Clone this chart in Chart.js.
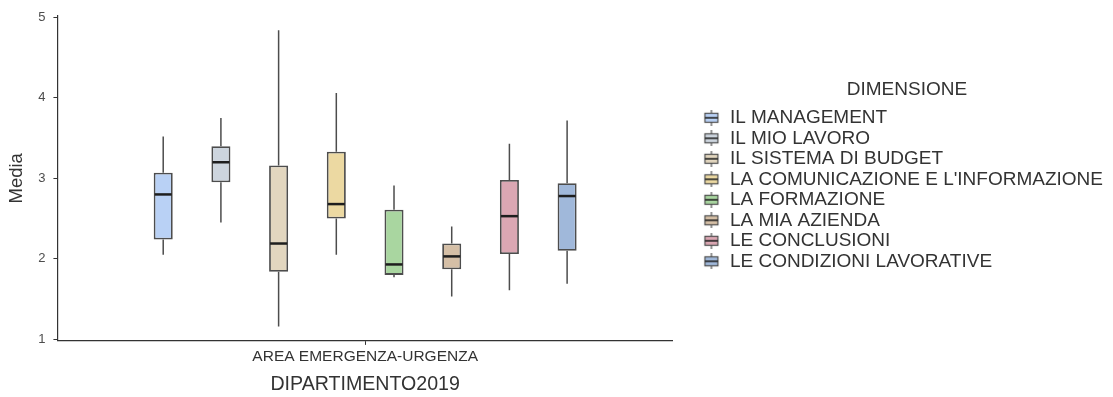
<!DOCTYPE html>
<html lang="it">
<head>
<meta charset="utf-8">
<title>Media per dimensione</title>
<script src="https://cdn.jsdelivr.net/npm/chart.js@4.4.1/dist/chart.umd.min.js"></script>
<style>
  html, body { margin: 0; padding: 0; background: #ffffff; }
  #chart { display: block; }
</style>
</head>
<body>
<canvas id="chart" width="1113" height="397"></canvas>
<script>
// Boxplot delle medie per dimensione, dipartimento AREA EMERGENZA-URGENZA
const categories = ['AREA EMERGENZA-URGENZA'];
const dimensions = [
    'IL MANAGEMENT',
    'IL MIO LAVORO',
    'IL SISTEMA DI BUDGET',
    "LA COMUNICAZIONE E L'INFORMAZIONE",
    'LA FORMAZIONE',
    'LA MIA AZIENDA',
    'LE CONCLUSIONI',
    'LE CONDIZIONI LAVORATIVE'
];
const whiskerLow  = [2.05, 2.45, 1.16, 2.05, 1.77, 1.53, 1.61, 1.69];
const q1          = [2.24, 2.95, 1.84, 2.50, 1.80, 1.87, 2.06, 2.10];
const median      = [2.80, 3.20, 2.19, 2.68, 1.93, 2.03, 2.53, 2.78];
const q3          = [3.07, 3.40, 3.16, 3.33, 2.61, 2.19, 2.98, 2.94];
const whiskerHigh = [3.52, 3.75, 4.84, 4.06, 2.91, 2.40, 3.43, 3.72];
const yTicks = [1, 2, 3, 4, 5];

const fills = ['#b9d1f5', '#cdd5de', '#e2d6bf', '#ecd9a2', '#a9d6a0', '#d5bfa6', '#dba7b3', '#a0b8da'];
const FONT = "'Liberation Sans', Arial, sans-serif";
const LINE = '#4d4d4d';

// piccola icona "box" per la legenda
function boxIcon(color) {
    const c = document.createElement('canvas');
    c.width = 18;
    c.height = 16;
    const ctx = c.getContext('2d');
    ctx.strokeStyle = LINE;
    ctx.lineWidth = 1.2;
    ctx.beginPath();
    ctx.moveTo(9, 0); ctx.lineTo(9, 3);
    ctx.moveTo(9, 13); ctx.lineTo(9, 16);
    ctx.stroke();
    ctx.fillStyle = color;
    ctx.fillRect(2.5, 3.5, 13, 9);
    ctx.strokeRect(2.5, 3.5, 13, 9);
    ctx.strokeStyle = '#222';
    ctx.lineWidth = 1.6;
    ctx.beginPath();
    ctx.moveTo(2.5, 8); ctx.lineTo(15.5, 8);
    ctx.stroke();
    return c;
}

const icons = fills.map(boxIcon);

// baffi e mediane disegnati sopra le barre flottanti [q1, q3]
const boxplotLines = {
    id: 'boxplotLines',
    beforeDatasetsDraw(chart) {
        const ctx = chart.ctx;
        const y = chart.scales.y;
        ctx.save();
        ctx.strokeStyle = LINE;
        ctx.lineWidth = 1.5;
        chart.data.datasets.forEach((ds, i) => {
            const bar = chart.getDatasetMeta(i).data[0];
            if (!bar) return;
            ctx.beginPath();
            ctx.moveTo(bar.x, y.getPixelForValue(q3[i]));
            ctx.lineTo(bar.x, y.getPixelForValue(whiskerHigh[i]));
            ctx.moveTo(bar.x, y.getPixelForValue(q1[i]));
            ctx.lineTo(bar.x, y.getPixelForValue(whiskerLow[i]));
            ctx.stroke();
        });
        ctx.restore();
    },
    afterDatasetsDraw(chart) {
        const ctx = chart.ctx;
        const y = chart.scales.y;
        ctx.save();
        ctx.strokeStyle = '#1e1e1e';
        ctx.lineWidth = 2.5;
        chart.data.datasets.forEach((ds, i) => {
            const bar = chart.getDatasetMeta(i).data[0];
            if (!bar) return;
            const py = y.getPixelForValue(median[i]);
            ctx.beginPath();
            ctx.moveTo(bar.x - bar.width / 2 + 1, py);
            ctx.lineTo(bar.x + bar.width / 2 - 1, py);
            ctx.stroke();
        });
        ctx.restore();
    }
};

const datasets = dimensions.map((name, i) => ({
    label: name,
    data: [[q1[i], q3[i]]],
    backgroundColor: fills[i],
    borderColor: LINE,
    borderWidth: 1.8,
    borderSkipped: false,
    categoryPercentage: 0.75,
    barPercentage: 0.33
}));

new Chart(document.getElementById('chart'), {
    type: 'bar',
    data: { labels: categories, datasets },
    plugins: [boxplotLines],
    options: {
        responsive: false,
        animation: false,
        devicePixelRatio: 1,
        layout: { padding: { top: 14, right: 0, bottom: 0, left: 0 } },
        plugins: {
            tooltip: { enabled: false },
            legend: {
                position: 'right',
                align: 'start',
                maxWidth: 520,
                title: {
                    display: true,
                    text: 'DIMENSIONE',
                    color: '#333',
                    font: { family: FONT, size: 19 },
                    padding: { top: 66, bottom: 4 }
                },
                labels: {
                    usePointStyle: true,
                    pointStyleWidth: 18,
                    padding: 1.5,
                    color: '#333',
                    font: { family: FONT, size: 19 },
                    generateLabels: chart => chart.data.datasets.map((ds, i) => ({
                        text: ds.label,
                        pointStyle: icons[i],
                        fillStyle: fills[i],
                        strokeStyle: LINE,
                        lineWidth: 0,
                        datasetIndex: i,
                        hidden: !chart.isDatasetVisible(i)
                    }))
                }
            }
        },
        scales: {
            x: {
                grid: { display: true, drawOnChartArea: false, drawTicks: true, tickLength: 4, offset: false, color: '#333' },
                border: { display: true, color: '#333', width: 1.2 },
                ticks: { color: '#333', padding: 3, font: { family: FONT, size: 15.5 } },
                title: {
                    display: true,
                    text: 'DIPARTIMENTO2019',
                    color: '#333',
                    font: { family: FONT, size: 19.6 },
                    padding: { top: 3, bottom: 1 }
                }
            },
            y: {
                min: 0.98,
                max: 5.02,
                afterBuildTicks: scale => { scale.ticks = yTicks.map(v => ({ value: v })); },
                grid: { display: true, drawOnChartArea: false, drawTicks: true, tickLength: 4, color: '#333' },
                border: { display: true, color: '#333', width: 1.2 },
                ticks: { color: '#4d4d4d', padding: 8, font: { family: FONT, size: 13 } },
                title: {
                    display: true,
                    text: 'Media',
                    color: '#333',
                    font: { family: FONT, size: 18.5 },
                    padding: { top: 6, bottom: 2 }
                }
            },
            // spazio vuoto tra pannello e legenda
            gap: {
                type: 'linear',
                position: 'right',
                display: true,
                grid: { display: false },
                border: { display: false },
                ticks: { display: false },
                afterFit: scale => { scale.width = 28; }
            }
        }
    }
});
</script>
</body>
</html>
